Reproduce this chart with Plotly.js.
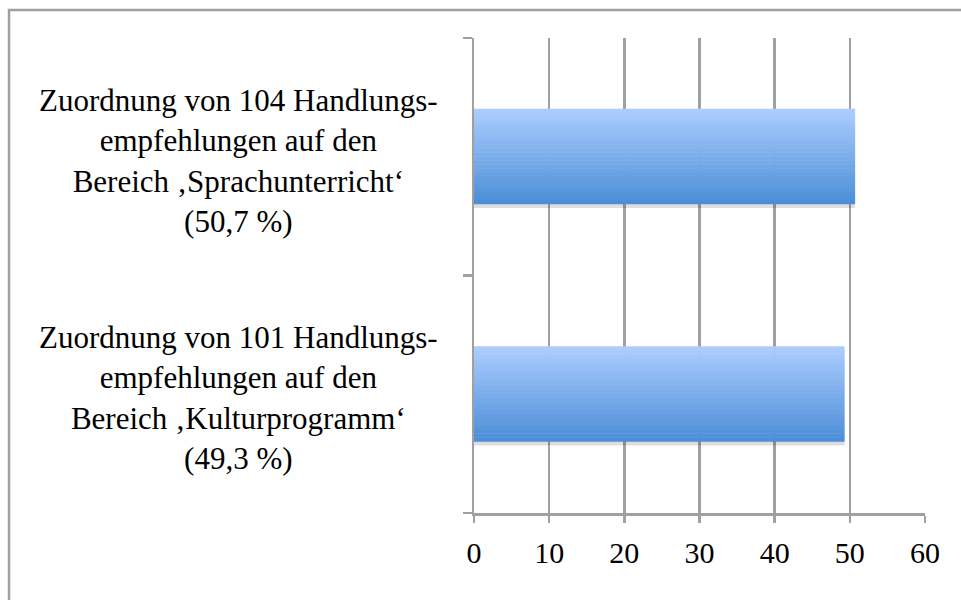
<!DOCTYPE html>
<html>
<head>
<meta charset="utf-8">
<script src="https://cdn.plot.ly/plotly-3.0.1.min.js"></script>
<style>html,body{margin:0;padding:0;background:#fff;}#chart{width:961px;height:600px;}</style>
</head>
<body>
<div id="chart"></div>
<script>
// Data
const categories = ["Kulturprogramm", "Sprachunterricht"];
const values = [49.3, 50.7];
const labels = [
  "Zuordnung von 101 Handlungs-<br>empfehlungen auf den<br>Bereich \u201AKulturprogramm\u2018<br>(49,3 %)",
  "Zuordnung von 104 Handlungs-<br>empfehlungen auf den<br>Bereich \u201ASprachunterricht\u2018<br>(50,7 %)"
];
const xTicks = [0, 10, 20, 30, 40, 50, 60];

const SERIF = '"Liberation Serif", "Times New Roman", Times, serif';

// Style: vertical gradient built from thin overlaid bands of the same bars
const BAR_W = 0.4;
const N_BANDS = 24;
const colTop = [171, 204, 253];   // light top
const colBot = [76, 143, 216];    // dark bottom
const traces = [];
// soft shadow under the bars
traces.push({
  type: 'bar', orientation: 'h', y: categories, x: values,
  width: BAR_W, offset: -BAR_W/2 - 0.016,
  marker: {color: 'rgba(0,0,0,0.13)', line: {width: 0}},
  hoverinfo: 'skip', showlegend: false
});
for (let i = 0; i < N_BANDS; i++) {
  const t = i / (N_BANDS - 1); // 0 bottom -> 1 top
  const c = colBot.map((b, k) => Math.round(b + (colTop[k] - b) * t));
  traces.push({
    type: 'bar', orientation: 'h', y: categories, x: values,
    width: BAR_W / N_BANDS + 0.002, offset: -BAR_W/2 + i * BAR_W / N_BANDS,
    marker: {color: 'rgb(' + c.join(',') + ')', line: {width: 0}},
    hoverinfo: 'x', showlegend: false
  });
}

const annotations = categories.map((c, i) => ({
  xref: 'paper', yref: 'y', x: -0.523, y: c, yshift: -4,
  xanchor: 'center', yanchor: 'middle', align: 'center',
  text: labels[i], showarrow: false,
  font: {family: SERIF, size: 31, color: '#000'}
}));

const layout = {
  width: 961, height: 600,
  margin: {l: 474, r: 36, t: 38, b: 87},
  paper_bgcolor: '#fff', plot_bgcolor: '#fff',
  barmode: 'overlay', showlegend: false,
  font: {family: SERIF, size: 30, color: '#000'},
  xaxis: {
    range: [0, 60], tickvals: xTicks, ticktext: xTicks.map(String),
    showgrid: true, gridcolor: '#a0a0a0', gridwidth: 2.5,
    zeroline: false, showline: true, linecolor: '#a0a0a0', linewidth: 2.5,
    ticks: 'outside', ticklen: 7, tickwidth: 2.5, tickcolor: '#a0a0a0',
    ticklabelstandoff: 4,
    tickfont: {family: SERIF, size: 30, color: '#000'},
    fixedrange: true
  },
  yaxis: {
    type: 'category', categoryorder: 'array', categoryarray: categories,
    range: [-0.5, 1.5], showticklabels: false,
    showgrid: false, zeroline: false, showline: true, linecolor: '#a0a0a0', linewidth: 2.5,
    ticks: 'outside', tickson: 'boundaries', ticklen: 9, tickwidth: 2.5, tickcolor: '#a0a0a0',
    fixedrange: true
  },
  annotations: annotations,
  shapes: [{
    type: 'rect', xref: 'paper', yref: 'paper',
    x0: -1.031, x1: 1.2, y0: -0.3, y1: 1.059,
    line: {color: '#a0a0a0', width: 2.5}, fillcolor: 'rgba(0,0,0,0)', layer: 'below'
  }]
};

Plotly.newPlot('chart', traces, layout, {displayModeBar: false, staticPlot: true});
</script>
</body>
</html>
